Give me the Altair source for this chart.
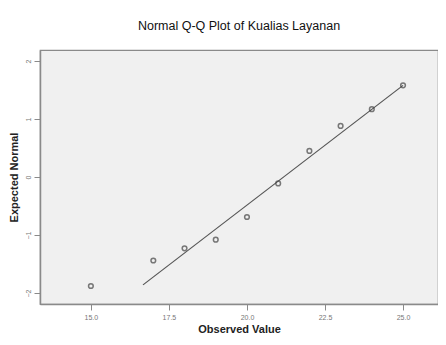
import altair as alt
import pandas as pd

observed = [15, 17, 18, 19, 20, 21, 22, 23, 24, 25]
expected = [-1.88, -1.44, -1.23, -1.08, -0.69, -0.11, 0.45, 0.88, 1.17, 1.58]
line_x = [16.67, 25.0]
line_y = [-1.86, 1.58]
x_ticks = [15.0, 17.5, 20.0, 22.5, 25.0]
y_ticks = [-2, -1, 0, 1, 2]

pts = pd.DataFrame({"obs": observed, "exp": expected})
ln = pd.DataFrame({"obs": line_x, "exp": line_y})

xs = alt.Scale(domain=[13.37, 26.12], nice=False, zero=False)
ys = alt.Scale(domain=[-2.19, 2.19], nice=False, zero=False)

xax = alt.Axis(values=x_ticks, format=".1f", title="Observed Value", grid=False,
               domainColor="#8a8a8a", domainWidth=1.5, tickColor="#8a8a8a", tickSize=6,
               labelColor="#777", labelFontSize=7, labelFont="Arial", labelPadding=3,
               titleFont="Arial", titleFontSize=11, titleFontWeight="bold", titleColor="#222",
               titlePadding=3)
yax = alt.Axis(values=y_ticks, format="d", title="Expected Normal", grid=False,
               domainColor="#8a8a8a", domainWidth=1.5, tickColor="#8a8a8a", tickSize=6,
               labelColor="#777", labelFontSize=7, labelFont="Arial", labelAngle=-90,
               labelAlign="center", labelBaseline="bottom", labelPadding=3,
               titleFont="Arial", titleFontSize=11, titleFontWeight="bold", titleColor="#222",
               titlePadding=5)

line = alt.Chart(ln).mark_line(color="#555", strokeWidth=1.2).encode(
    x=alt.X("obs:Q", scale=xs, axis=xax),
    y=alt.Y("exp:Q", scale=ys, axis=yax),
)
points = alt.Chart(pts).mark_point(shape="circle", filled=False, color="#444",
                                   strokeWidth=1.5, size=22).encode(
    x=alt.X("obs:Q", scale=xs),
    y=alt.Y("exp:Q", scale=ys),
)

chart = (line + points).properties(
    width=398, height=254,
    autosize=alt.AutoSizeParams(type="none"),
    padding={"left": 32, "top": 42, "right": 0, "bottom": 33},
    title=alt.TitleParams("Normal Q-Q Plot of Kualias Layanan", font="Arial", fontSize=12.5,
                          fontWeight="normal", color="#111", anchor="middle", offset=18),
    background="white",
).configure_view(fill="#f0f0f0", stroke="#8a8a8a", strokeWidth=1.2)

chart.save("out.html", embed_options={"renderer": "svg", "actions": False})
